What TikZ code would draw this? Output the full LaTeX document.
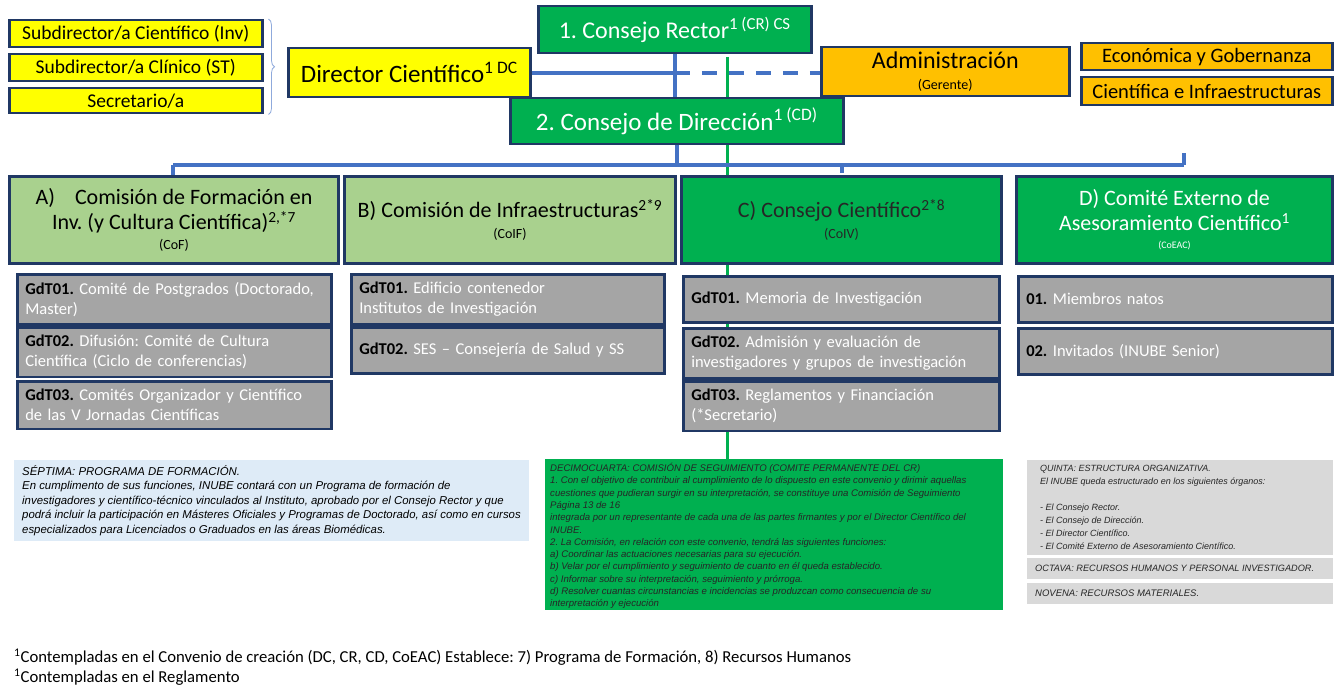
\documentclass[tikz,border=0pt]{standalone}
\usepackage{fontspec}
\setmainfont{Carlito}
\newfontfamily\arialf{Liberation Sans}
\usetikzlibrary{decorations.pathreplacing}
\definecolor{navy}{RGB}{32,56,100}
\definecolor{blueln}{RGB}{68,114,196}
\definecolor{greenc}{RGB}{0,176,80}
\definecolor{lgreen}{RGB}{169,209,142}
\definecolor{grayc}{RGB}{165,165,165}
\definecolor{yellowc}{RGB}{255,255,0}
\definecolor{orangec}{RGB}{255,192,0}
\definecolor{lblue}{RGB}{222,235,247}
\definecolor{lgray}{RGB}{217,217,217}
\definecolor{bracec}{RGB}{143,170,220}
\begin{document}
\frenchspacing
\begin{tikzpicture}[x=1pt,y=-1pt,
  box/.style={draw=navy, line width=2.5, inner sep=2, anchor=north west, align=center},
  ybox/.style={box, fill=yellowc, font=\fontsize{19.5}{22}\selectfont},
  obox/.style={box, fill=orangec, font=\fontsize{20.5}{22}\selectfont},
  gbox/.style={box, fill=greenc, text=white, font=\fontsize{25}{28}\selectfont},
  combox/.style={box, line width=3, font=\fontsize{22}{25}\selectfont, minimum height=87},
  gdt/.style={box, fill=grayc, text=white, align=left, inner sep=8, font=\fontsize{16.5}{20}\selectfont},
  note/.style={anchor=north west, align=left, inner sep=0, font=\arialf\itshape\fontsize{11.4}{14.5}\selectfont},
  blueline/.style={draw=blueln, line width=4},
  greenline/.style={draw=greenc, line width=3}]
\useasboundingbox (0,0) rectangle (1339,695);

% top level nodes
\node[ybox, minimum width=253, minimum height=27] (s1) at (8,19) {Subdirector/a Científico (Inv)};
\node[ybox, minimum width=253, minimum height=27] (s2) at (8,53) {Subdirector/a Clínico (ST)};
\node[ybox, minimum width=253, minimum height=25] (s3) at (8,87) {Secretario/a};
\draw[decorate, decoration={brace, amplitude=6}, draw=bracec, line width=0.8]
  ([xshift=5]s1.north east) -- ([xshift=5]s3.south east);

\node[box, fill=yellowc, font=\fontsize{25}{28}\selectfont, minimum width=242, minimum height=49] (dc) at (287,47) {Director Científico\textsuperscript{1 DC}};
\node[gbox, font=\fontsize{24}{28}\selectfont, minimum width=273, minimum height=47] (cr) at (537,5) {1. Consejo Rector\textsuperscript{1 (CR) CS}};
\node[obox, font=\fontsize{24}{22}\selectfont, minimum width=248, minimum height=49] (adm) at (820,46) {Administración\\[-1pt]{\fontsize{14}{14}\selectfont (Gerente)}};
\node[obox, minimum width=251, minimum height=27] (eco) at (1080,42) {Económica y Gobernanza};
\node[obox, minimum width=251, minimum height=28] (cie) at (1080,76) {Científica e Infraestructuras};

% connectors upper
\coordinate (bus) at (0,165);
\draw[blueline] (dc.east) -- (dc.east -| cr.south);
\draw[blueline, dash pattern=on 15 off 12] (dc.east -| cr.south) -- (dc.east -| adm.west);
\draw[blueline] (cr.south) -- (cr.south |- 0,97);

% green vertical line (behind boxes)
\coordinate (gtop) at (727,57);
\coordinate (gbot) at (727,459);
\draw[greenline] (gtop) -- (gbot);

\node[gbox, minimum width=333, minimum height=46] (cd) at (509,97) {2. Consejo de Dirección\textsuperscript{1 (CD)}};

% committees
\node[combox, fill=lgreen, minimum width=329] (ca) at (8,175) {A)\hspace{20pt}Comisión de Formación en\\Inv. (y Cultura Científica)\textsuperscript{2,*7}\\[-5pt]{\fontsize{14}{15}\selectfont (CoF)}};
\node[combox, fill=lgreen, minimum width=331] (cb) at (343,175) {B) Comisión de Infraestructuras\textsuperscript{2*9}\\[-4pt]{\fontsize{14}{15}\selectfont (CoIF)}};
\node[combox, fill=greenc, text=black!85, minimum width=320] (cc) at (680,175) {C) Consejo Científico\textsuperscript{2*8}\\[-4pt]{\fontsize{14}{15}\selectfont (CoIV)}};
\node[combox, fill=greenc, text=white, minimum width=316] (cdd) at (1015,175) {D) Comité Externo de\\Asesoramiento Científico\textsuperscript{1}\\[-7pt]{\fontsize{10}{11}\selectfont (CoEAC)}};

% tree
\draw[blueline] (cd.south) -- (cd.south |- bus);
\coordinate (dA) at (173,165);
\coordinate (dB) at (506,165);
\coordinate (dC) at (842,165);
\coordinate (dD) at (1184,165);
\draw[blueline] (dA) -- (dD);
\draw[blueline] (dA) -- (dA |- ca.north);
\draw[blueline] (dB) -- ([yshift=11]dB |- cb.north);
\draw[blueline] (dC) -- ([yshift=2]dC |- cc.north);
\draw[blueline] (dD) -- ([yshift=22]dD |- cdd.north);

% working groups
\node[gdt, minimum width=314, minimum height=46, text width=298] (a1) at (16,273) {\textcolor{black}{\textbf{GdT01.}} Comité de Postgrados (Doctorado,\\Master)};
\node[gdt, minimum width=314, minimum height=46, text width=298] (a2) at (16,326) {\textcolor{black}{\textbf{GdT02.}} Difusión: Comité de Cultura\\Científica (Ciclo de conferencias)};
\node[gdt, minimum width=314, minimum height=47, text width=298] (a3) at (16,380) {\textcolor{black}{\textbf{GdT03.}} Comités Organizador y Científico\\de las V Jornadas Científicas};

\node[gdt, minimum width=313, minimum height=46, text width=297] (b1) at (350,273) {\textcolor{black}{\textbf{GdT01.}} Edificio contenedor\\Institutos de Investigación};
\node[gdt, minimum width=313, minimum height=46, text width=297] (b2) at (350,326) {\textcolor{black}{\textbf{GdT02.}} SES – Consejería de Salud y SS};

\node[gdt, minimum width=316, minimum height=46, text width=300] (c1) at (682,275) {\textcolor{black}{\textbf{GdT01.}} Memoria de Investigación};
\node[gdt, minimum width=316, minimum height=46, text width=300] (c2) at (682,327) {\textcolor{black}{\textbf{GdT02.}} Admisión y evaluación de\\investigadores y grupos de investigación};
\node[gdt, minimum width=316, minimum height=46, text width=300] (c3) at (682,380) {\textcolor{black}{\textbf{GdT03.}} Reglamentos y Financiación\\(*Secretario)};

\node[gdt, minimum width=314, minimum height=46, text width=298] (d1) at (1017,275) {\textcolor{black}{\textbf{01.}} Miembros natos};
\node[gdt, minimum width=314, minimum height=46, text width=298] (d2) at (1017,327) {\textcolor{black}{\textbf{02.}} Invitados (INUBE Senior)};

% notes
\fill[lblue] (14,460) rectangle (529,541);
\node[note] (n1) at (22,465) {SÉPTIMA: PROGRAMA DE FORMACIÓN.\\
En cumplimento de sus funciones, INUBE contará con un Programa de formación de\\
investigadores y científico-técnico vinculados al Instituto, aprobado por el Consejo Rector y que\\
podrá incluir la participación en Másteres Oficiales y Programas de Doctorado, así como en cursos\\
especializados para Licenciados o Graduados en las áreas Biomédicas.};

\fill[greenc] (545,459) rectangle (1003,610);
\node[note, font=\arialf\itshape\fontsize{9.6}{12.3}\selectfont, text=black!85] (n2) at (550,463) {DECIMOCUARTA: COMISIÓN DE SEGUIMIENTO (COMITE PERMANENTE DEL CR)\\
1. Con el objetivo de contribuir al cumplimiento de lo dispuesto en este convenio y dirimir aquellas\\
cuestiones que pudieran surgir en su interpretación, se constituye una Comisión de Seguimiento\\
Página 13 de 16\\
integrada por un representante de cada una de las partes firmantes y por el Director Científico del\\
INUBE.\\
2. La Comisión, en relación con este convenio, tendrá las siguientes funciones:\\
a) Coordinar las actuaciones necesarias para su ejecución.\\
b) Velar por el cumplimiento y seguimiento de cuanto en él queda establecido.\\
c) Informar sobre su interpretación, seguimiento y prórroga.\\
d) Resolver cuantas circunstancias e incidencias se produzcan como consecuencia de su\\
interpretación y ejecución};

\fill[lgray] (1027,460) rectangle (1333,555);
\node[note, font=\arialf\itshape\fontsize{9}{13}\selectfont, text=black!85] (n3) at (1040,465) {QUINTA: ESTRUCTURA ORGANIZATIVA.\\
El INUBE queda estructurado en los siguientes órganos:\\
\mbox{}\\
- El Consejo Rector.\\
- El Consejo de Dirección.\\
- El Director Científico.\\
- El Comité Externo de Asesoramiento Científico.};
\fill[lgray] (1027,558) rectangle (1333,579);
\node[note, anchor=west, font=\arialf\itshape\fontsize{9.2}{10}\selectfont, text=black!85] (n4) at (1035,568.5) {OCTAVA: RECURSOS HUMANOS Y PERSONAL INVESTIGADOR.};
\fill[lgray] (1027,583) rectangle (1333,604);
\node[note, anchor=west, font=\arialf\itshape\fontsize{9.5}{11}\selectfont, text=black!85] (n5) at (1035,593.5) {NOVENA: RECURSOS MATERIALES.};

% footnotes
\node[anchor=west, inner sep=0, font=\fontsize{16.7}{18}\selectfont] (f1) at (14,657) {\textsuperscript{1}Contempladas en el Convenio de creación (DC, CR, CD, CoEAC) Establece: 7) Programa de Formación, 8) Recursos Humanos};
\node[anchor=west, inner sep=0, font=\fontsize{16.7}{18}\selectfont] (f2) at (14,677) {\textsuperscript{1}Contempladas en el Reglamento};
\end{tikzpicture}
\end{document}
